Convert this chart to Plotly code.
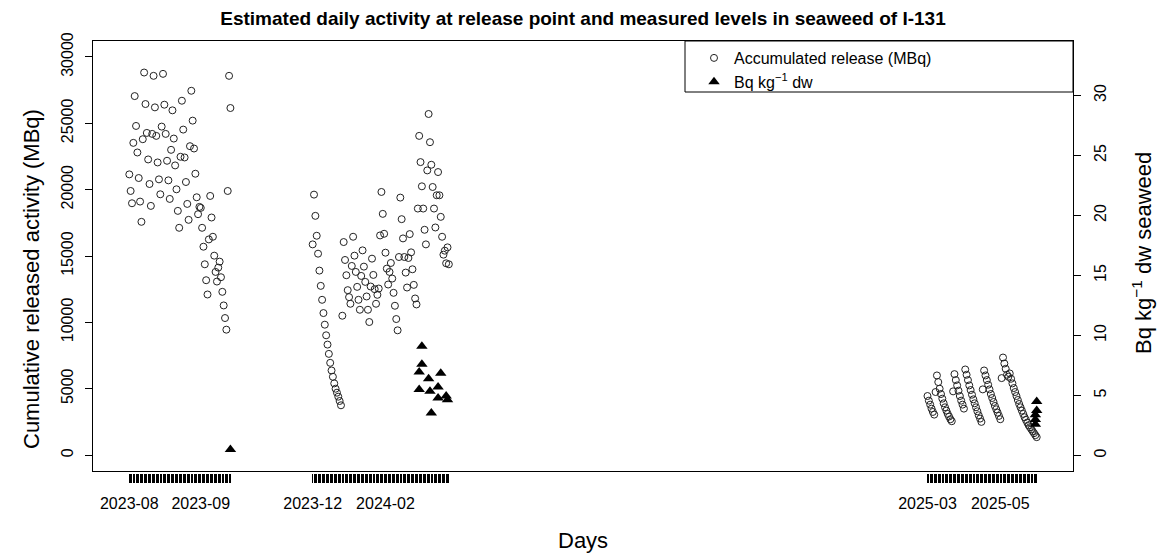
import pandas as pd
import plotly.graph_objects as go

# ---------------- data ----------------
# Accumulated release (MBq), one value per day, three campaigns
release_start_1 = "2023-08-01"
release_1 = [21150, 19900, 18975, 23525, 27050, 24800, 22800, 20875, 19100, 17575,
             23800, 28825, 26450, 24275, 22275, 20425, 18775, 24200, 28575, 26200,
             24050, 22050, 20775, 19650, 24750, 28725, 26400, 24200, 22175, 20700,
             19300, 23000, 25975, 23850, 21825, 20025, 18400, 17125, 22475, 26700,
             24525, 22425, 20575, 18925, 17725, 23275, 27450, 25200, 23100, 21200,
             19425, 18150, 18700, 18625, 17125, 15700, 14375, 13175, 12100, 16250,
             19525, 17900, 16450, 15025, 13800, 13075, 14125, 14575, 13400, 12300,
             11275, 10325, 9450, 19900, 28575, 26150]

release_start_2 = "2023-12-15"
release_2 = [15875, 19625, 18025, 16525, 15175, 13900, 12750, 11700, 10700, 9825,
             9025, 8325, 7625, 6950, 6375, 5900, 5400, 5000, 4700, 4400, 4075, 3750,
             10500, 16050, 14700, 13550, 12425, 11900, 11400, 14250, 16450, 15025,
             13800, 12675, 11700, 10950, 13500, 15425, 14200, 13050, 11950, 10950,
             10025, 12700, 14800, 13575, 12500, 11400, 12075, 12550, 16550, 19825,
             18175, 16675, 15250, 14050, 12850, 13800, 14475, 13300, 12225, 11250,
             10250, 9400, 14925, 19400, 17775, 16325, 14925, 13750, 12625, 14850,
             16650, 15275, 14000, 12825, 11800, 11350, 18575, 24050, 22075, 20250,
             18575, 16975, 15875, 21450, 25700, 23575, 21875, 20200, 18575, 17150,
             19575, 21325, 19575, 17950, 16450, 15100, 15400, 14450, 15650, 14375]

release_start_3 = "2025-03-15"
release_3 = [4450, 4100, 3800, 3500, 3250, 3050,
             4750, 6000, 5500, 5000, 4600, 4250, 3900, 3600, 3350, 3100, 2900, 2700, 2550,
             4800, 6100, 5650, 5250, 4850, 4450, 4100, 3800, 3500,
             6450, 6050, 5650, 5250, 4900, 4550, 4200, 3900, 3600, 3300, 3000, 2750, 2500,
             4950, 6375, 6000, 5650, 5300, 4950, 4600, 4300, 4000, 3700, 3450, 3200, 2950, 2700,
             5800, 7350, 6900, 6500, 6050, 5900, 6150, 5750, 5400, 5050, 4750, 4450, 4150,
             3850, 3600, 3350, 3100, 2850, 2650, 2450, 2250, 2100, 1950, 1800, 1650, 1500, 1350]

# Measured levels in seaweed (Bq kg-1 dw)
bq_dates = ["2023-10-15",
            "2024-03-03", "2024-03-03", "2024-03-05", "2024-03-05", "2024-03-10",
            "2024-03-11", "2024-03-12", "2024-03-17", "2024-03-17", "2024-03-19",
            "2024-03-23", "2024-03-24",
            "2025-06-04", "2025-06-04", "2025-06-03", "2025-06-03", "2025-06-03"]
bq_values = [0.5,
             6.95, 5.5, 9.1, 7.6, 6.4,
             5.35, 3.55, 5.7, 4.8, 6.85,
             4.95, 4.65,
             4.5, 3.75, 3.4, 3.0, 2.6]

# tick label positions (label days after start of each campaign)
label_offsets = [0, 53, 0, 54, 0, 54]

left_ticks = [0, 5000, 10000, 15000, 20000, 25000, 30000]
left_tick_text = ["0", "5000", "10000", "15000", "20000", "25000", "30000"]
right_ticks = [0, 5, 10, 15, 20, 25, 30]

# ---------------- build ----------------
d1 = pd.date_range(release_start_1, periods=len(release_1), freq="D")
d2 = pd.date_range(release_start_2, periods=len(release_2), freq="D")
d3 = pd.date_range(release_start_3, periods=len(release_3), freq="D")
rel_dates = list(d1) + list(d2) + list(d3)
rel_vals = release_1 + release_2 + release_3

starts = [d1[0], d1[0], d2[0], d2[0], d3[0], d3[0]]
label_dates = [s + pd.Timedelta(days=o) for s, o in zip(starts, label_offsets)]
label_set = {d.normalize(): d.strftime("%Y-%m") for d in label_dates}

tickvals = sorted(set(rel_dates) | set(label_dates))
ticktext = [label_set.get(t, "") for t in tickvals]
tickvals_s = [t.strftime("%Y-%m-%d") for t in tickvals]

first, last = min(rel_dates), max(rel_dates)
span = last - first
xr = [(first - span * 0.04).strftime("%Y-%m-%d %H:%M"),
      (last + span * 0.04).strftime("%Y-%m-%d %H:%M")]

W, H = 1157, 553
mt, mb, ml, mr = 41, 60, 93, 84
inner_h = H - mt - mb
inner_w = W - ml - mr
plot_bottom = 471
dom_bottom = (H - mb - plot_bottom) / inner_h
tick_pos = (H - mb - (plot_bottom + 2)) / inner_h


def px_x(px):
    return (px - ml) / inner_w


def px_y(py):
    return (H - mb - py) / inner_h


FONT = "Liberation Sans, Arial, sans-serif"

fig = go.Figure()
fig.add_trace(go.Scatter(
    x=[d.strftime("%Y-%m-%d") for d in rel_dates], y=rel_vals, mode="markers",
    name="Accumulated release (MBq)",
    marker=dict(symbol="circle-open", size=7, color="#222222", line=dict(width=1)),
    xaxis="x", yaxis="y"))
fig.add_trace(go.Scatter(
    x=bq_dates, y=bq_values, mode="markers",
    name="Bq kg<sup>\u22121</sup> dw",
    marker=dict(symbol="triangle-up", size=10, color="black"),
    xaxis="x2", yaxis="y2"))

fig.update_layout(
    width=W, height=H,
    margin=dict(l=ml, r=mr, t=mt, b=mb, autoexpand=False),
    paper_bgcolor="white", plot_bgcolor="white",
    font=dict(family=FONT, color="black", size=16),
    title=dict(text="Estimated daily activity at release point and measured levels in seaweed of I-131",
               x=0.5, xref="paper", xanchor="center",
               y=1 - 18 / H, yref="container", yanchor="middle",
               font=dict(size=19, weight="bold", family=FONT)),
    xaxis=dict(type="date", range=xr, domain=[0, 1], anchor="y",
               showline=True, mirror=True, linecolor="black", linewidth=1,
               ticks="", showticklabels=False, showgrid=False, zeroline=False),
    xaxis2=dict(type="date", range=xr, overlaying="x", anchor="free",
                position=tick_pos, side="bottom", showline=False,
                ticks="outside", ticklen=9, tickwidth=1, tickcolor="black",
                tickmode="array", tickvals=tickvals_s, ticktext=ticktext,
                tickangle=0, tickfont=dict(size=16), ticklabelstandoff=7,
                showgrid=False, zeroline=False),
    yaxis=dict(domain=[dom_bottom, 1], range=[-1200, 31200], anchor="x",
               showline=True, mirror=True, linecolor="black", linewidth=1,
               ticks="outside", ticklen=7, tickwidth=1, tickcolor="black",
               tickmode="array", tickvals=left_ticks, ticktext=left_tick_text,
               tickangle=-90, ticklabelstandoff=6,
               tickfont=dict(size=16), showgrid=False, zeroline=False),
    yaxis2=dict(overlaying="y", side="right", anchor="x", range=[-1.29, 34.54],
                showline=False, ticks="outside", ticklen=7, tickwidth=1,
                tickcolor="black", tickmode="array", tickvals=right_ticks,
                tickangle=-90, ticklabelstandoff=6,
                tickfont=dict(size=16), showgrid=False, zeroline=False),
    legend=dict(x=px_x(694), xanchor="left", y=1.0, yanchor="top",
                bgcolor="rgba(0,0,0,0)", borderwidth=0, font=dict(size=16),
                tracegroupgap=0, itemsizing="trace"),
    showlegend=True,
)

# axis titles
fig.add_annotation(text="Cumulative released activity (MBq)", textangle=-90,
                   xref="paper", yref="paper", x=px_x(31), y=px_y(279),
                   xanchor="center", yanchor="middle", showarrow=False,
                   font=dict(size=22))
fig.add_annotation(text="Bq kg<sup>\u22121</sup> dw seaweed", textangle=-90,
                   xref="paper", yref="paper", x=px_x(1142), y=px_y(253),
                   xanchor="center", yanchor="middle", showarrow=False,
                   font=dict(size=22))
fig.add_annotation(text="Days", xref="paper", yref="paper",
                   x=0.5, y=px_y(540), xanchor="center", yanchor="middle",
                   showarrow=False, font=dict(size=22))

# legend frame (as in the base-R legend box)
fig.add_shape(type="rect", xref="paper", yref="paper",
              x0=px_x(685), x1=1.0, y0=px_y(92), y1=1.0,
              line=dict(color="black", width=1), fillcolor="rgba(0,0,0,0)")

fig.write_html("out.html")
